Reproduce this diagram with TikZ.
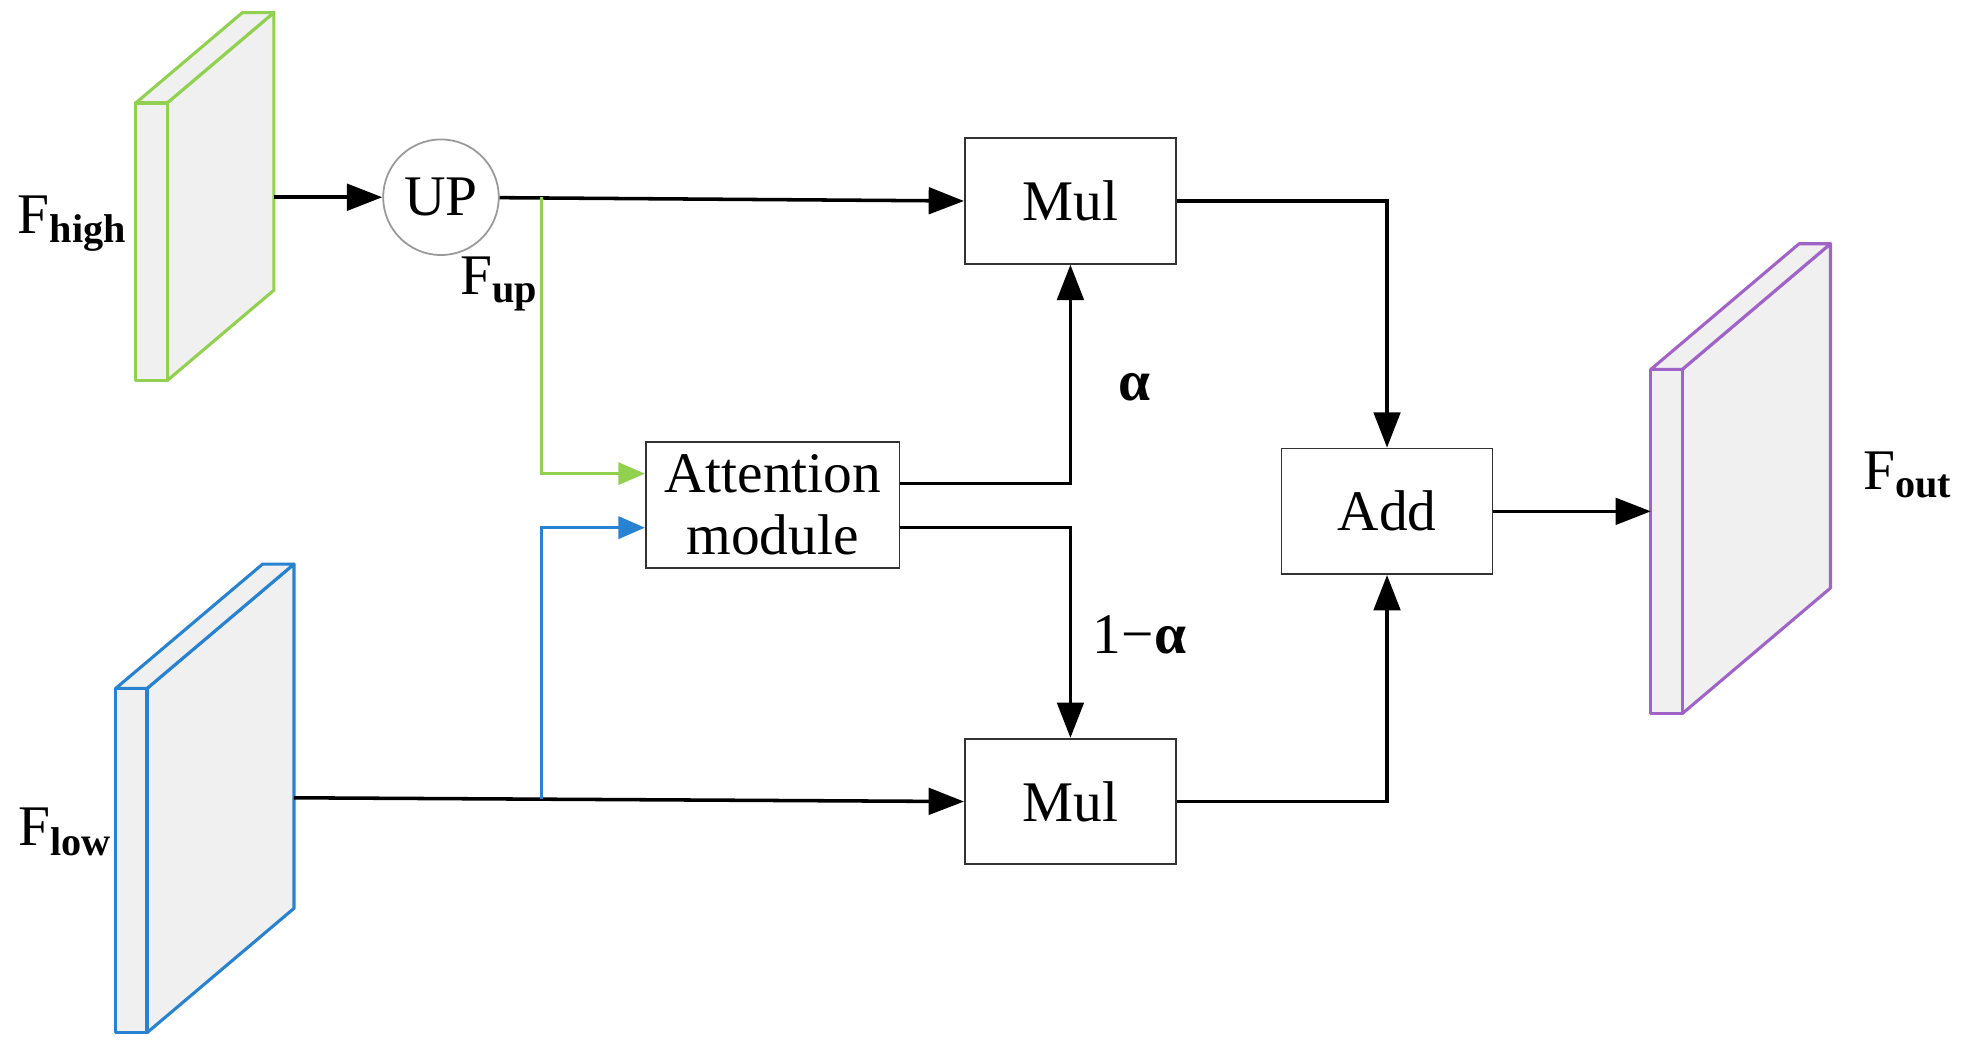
\documentclass[tikz,border=0pt]{standalone}
\usepackage{fontspec}
\setmainfont{Liberation Serif}
\usetikzlibrary{arrows.meta}
\begin{document}
\begin{tikzpicture}[x=0.01cm,y=-0.01cm,
  box/.style={draw=black!80,fill=white,minimum width=168*0.01cm,minimum height=100*0.01cm,inner sep=0pt,font=\fontsize{13}{14}\selectfont},
  arr/.style={-{Triangle[length=8pt,width=6pt]},line width=0.8pt},
  lbl/.style={font=\fontsize{13}{14}\selectfont},
  face/.style={fill=black!6,line width=0.7pt,line join=round}]
\useasboundingbox (0,0) rectangle (1568,834);
\newcommand{\slab}[6]{%
  \draw[face,draw=#6] (#1+25,#2) -- (#1+25+#4,#2-#5) -- (#1+25+#4,#3-#5) -- (#1+25,#3) -- cycle;
  \draw[face,draw=#6] (#1,#2) -- (#1+#4,#2-#5) -- (#1+25+#4,#2-#5) -- (#1+25,#2) -- cycle;
  \draw[face,draw=#6] (#1,#2) rectangle (#1+25,#3);}
\definecolor{gr}{RGB}{146,208,80}
\definecolor{bl}{RGB}{40,130,210}
\definecolor{pu}{RGB}{160,100,200}
\slab{108}{82}{303}{85}{72}{gr}
\slab{92}{548}{822}{117}{99}{bl}
\slab{1314}{294}{568}{118}{100}{pu}
\coordinate (hi) at (218,157);
\coordinate (lo) at (234,635);
\coordinate (ou) at (1314,407);
\node[draw=black!40,circle,minimum size=92*0.01cm,inner sep=0pt,font=\fontsize{13}{14}\selectfont] (up) at (351,157) {UP};
\node[box] (m1) at (852,160) {Mul};
\node[box] (m2) at (852,638) {Mul};
\node[box,minimum width=202*0.01cm,align=center,font=\fontsize{13}{14}\selectfont] (at) at (615,402) {Attention\\module};
\node[box] (ad) at (1104,407) {Add};
\coordinate (b1) at (431,157);
\coordinate (b2) at (431,636);
\draw[arr] (hi) -- (up);
\draw[arr] (up) -- (m1.west);
\draw[draw=gr,line width=0.7pt,-{Triangle[length=6pt,width=5pt]}] (b1) |- (at.west|-0,377);
\draw[arr] (lo) -- (m2.west);
\draw[draw=bl,line width=0.8pt,-{Triangle[length=6pt,width=5pt]}] (b2) |- (at.west|-0,420);
\draw[arr] (at.east|-0,385) -| (m1.south);
\draw[arr] (at.east|-0,420) -| (m2.north);
\draw[arr] (m1.east) -| (ad.north);
\draw[arr] (m2.east) -| (ad.south);
\draw[arr] (ad.east) -- (ou);
\node[lbl] (la) at (903,308) {\textbf{α}};
\node[lbl] (lb) at (907,505) {1−\textbf{α}};
\node[lbl] (fh) at (58,178) {F\textsubscript{\textbf{high}}};
\node[lbl] (fu) at (398,226) {F\textsubscript{\textbf{up}}};
\node[lbl] (fl) at (52,662) {F\textsubscript{\textbf{low}}};
\node[lbl] (fo) at (1519,378) {F\textsubscript{\textbf{out}}};
\end{tikzpicture}
\end{document}
